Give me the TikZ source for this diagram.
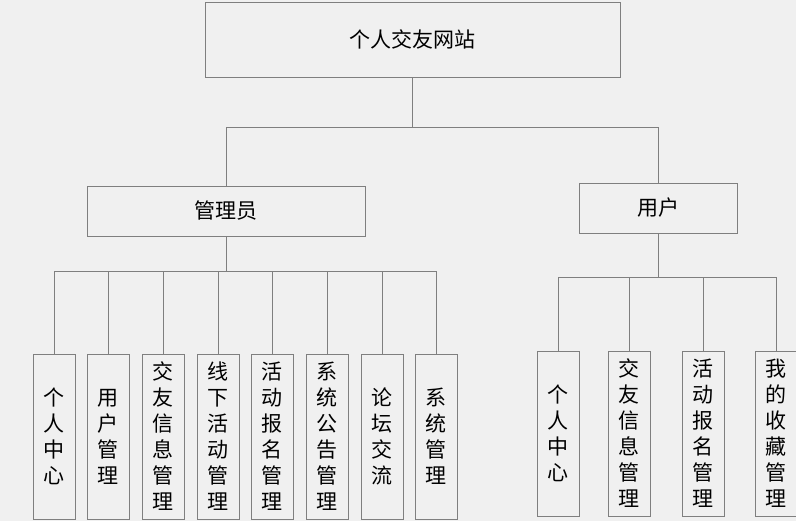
\documentclass[tikz,border=0pt]{standalone}
\usepackage{fontspec}
\newfontfamily\cjk{Noto Sans CJK SC}
\definecolor{bg}{HTML}{F0F0F0}
\definecolor{ln}{HTML}{7F7F7F}
\tikzset{
  box/.style={draw=ln, fill=bg, line width=0.9pt, inner sep=0pt, align=center,
    font=\cjk\fontsize{21}{26}\selectfont, text=black},
  vbox/.style={box, minimum width=42, minimum height=165, text width=22},
  conn/.style={draw=ln, line width=0.9pt}
}
\begin{document}
\begin{tikzpicture}[x=1pt,y=-1pt]
\fill[bg] (0,0) rectangle (796,521);
\useasboundingbox (0,0) rectangle (796,521);
\node[box, minimum width=415, minimum height=75] (root) at (412.5,39.5) {个人交友网站};
\node[box, minimum width=278, minimum height=50] (admin) at (226,211) {管理员};
\node[box, minimum width=158, minimum height=50] (user) at (658,208) {用户};
\coordinate (j0) at (412.5,127);
\coordinate (ja) at (226,271);
\coordinate (ju) at (658,277);
% admin children
\node[vbox] (a1) at (54,436.5) {个\\人\\中\\心};
\node[vbox] (a2) at (108,436.5) {用\\户\\管\\理};
\node[vbox] (a3) at (163,436.5) {交\\友\\信\\息\\管\\理};
\node[vbox] (a4) at (218,436.5) {线\\下\\活\\动\\管\\理};
\node[vbox] (a5) at (272,436.5) {活\\动\\报\\名\\管\\理};
\node[vbox] (a6) at (327,436.5) {系\\统\\公\\告\\管\\理};
\node[vbox] (a7) at (382,436.5) {论\\坛\\交\\流};
\node[vbox] (a8) at (436,436.5) {系\\统\\管\\理};
% user children
\node[vbox] (u1) at (558,433.5) {个\\人\\中\\心};
\node[vbox] (u2) at (629,433.5) {交\\友\\信\\息\\管\\理};
\node[vbox] (u3) at (703,433.5) {活\\动\\报\\名\\管\\理};
\node[vbox] (u4) at (776,433.5) {我\\的\\收\\藏\\管\\理};
% connectors
\draw[conn] (root.south) -- (j0);
\draw[conn] (admin.north) -- (admin.north |- j0) -- (user.north |- j0) -- (user.north);
\draw[conn] (admin.south) -- (ja);
\draw[conn] (a1.north |- ja) -- (a8.north |- ja);
\foreach \n in {a1,a2,a3,a4,a5,a6,a7,a8}{\draw[conn] (\n.north) -- (\n.north |- ja);}
\draw[conn] (user.south) -- (ju);
\draw[conn] (u1.north |- ju) -- (u4.north |- ju);
\foreach \n in {u1,u2,u3,u4}{\draw[conn] (\n.north) -- (\n.north |- ju);}
\end{tikzpicture}
\end{document}
